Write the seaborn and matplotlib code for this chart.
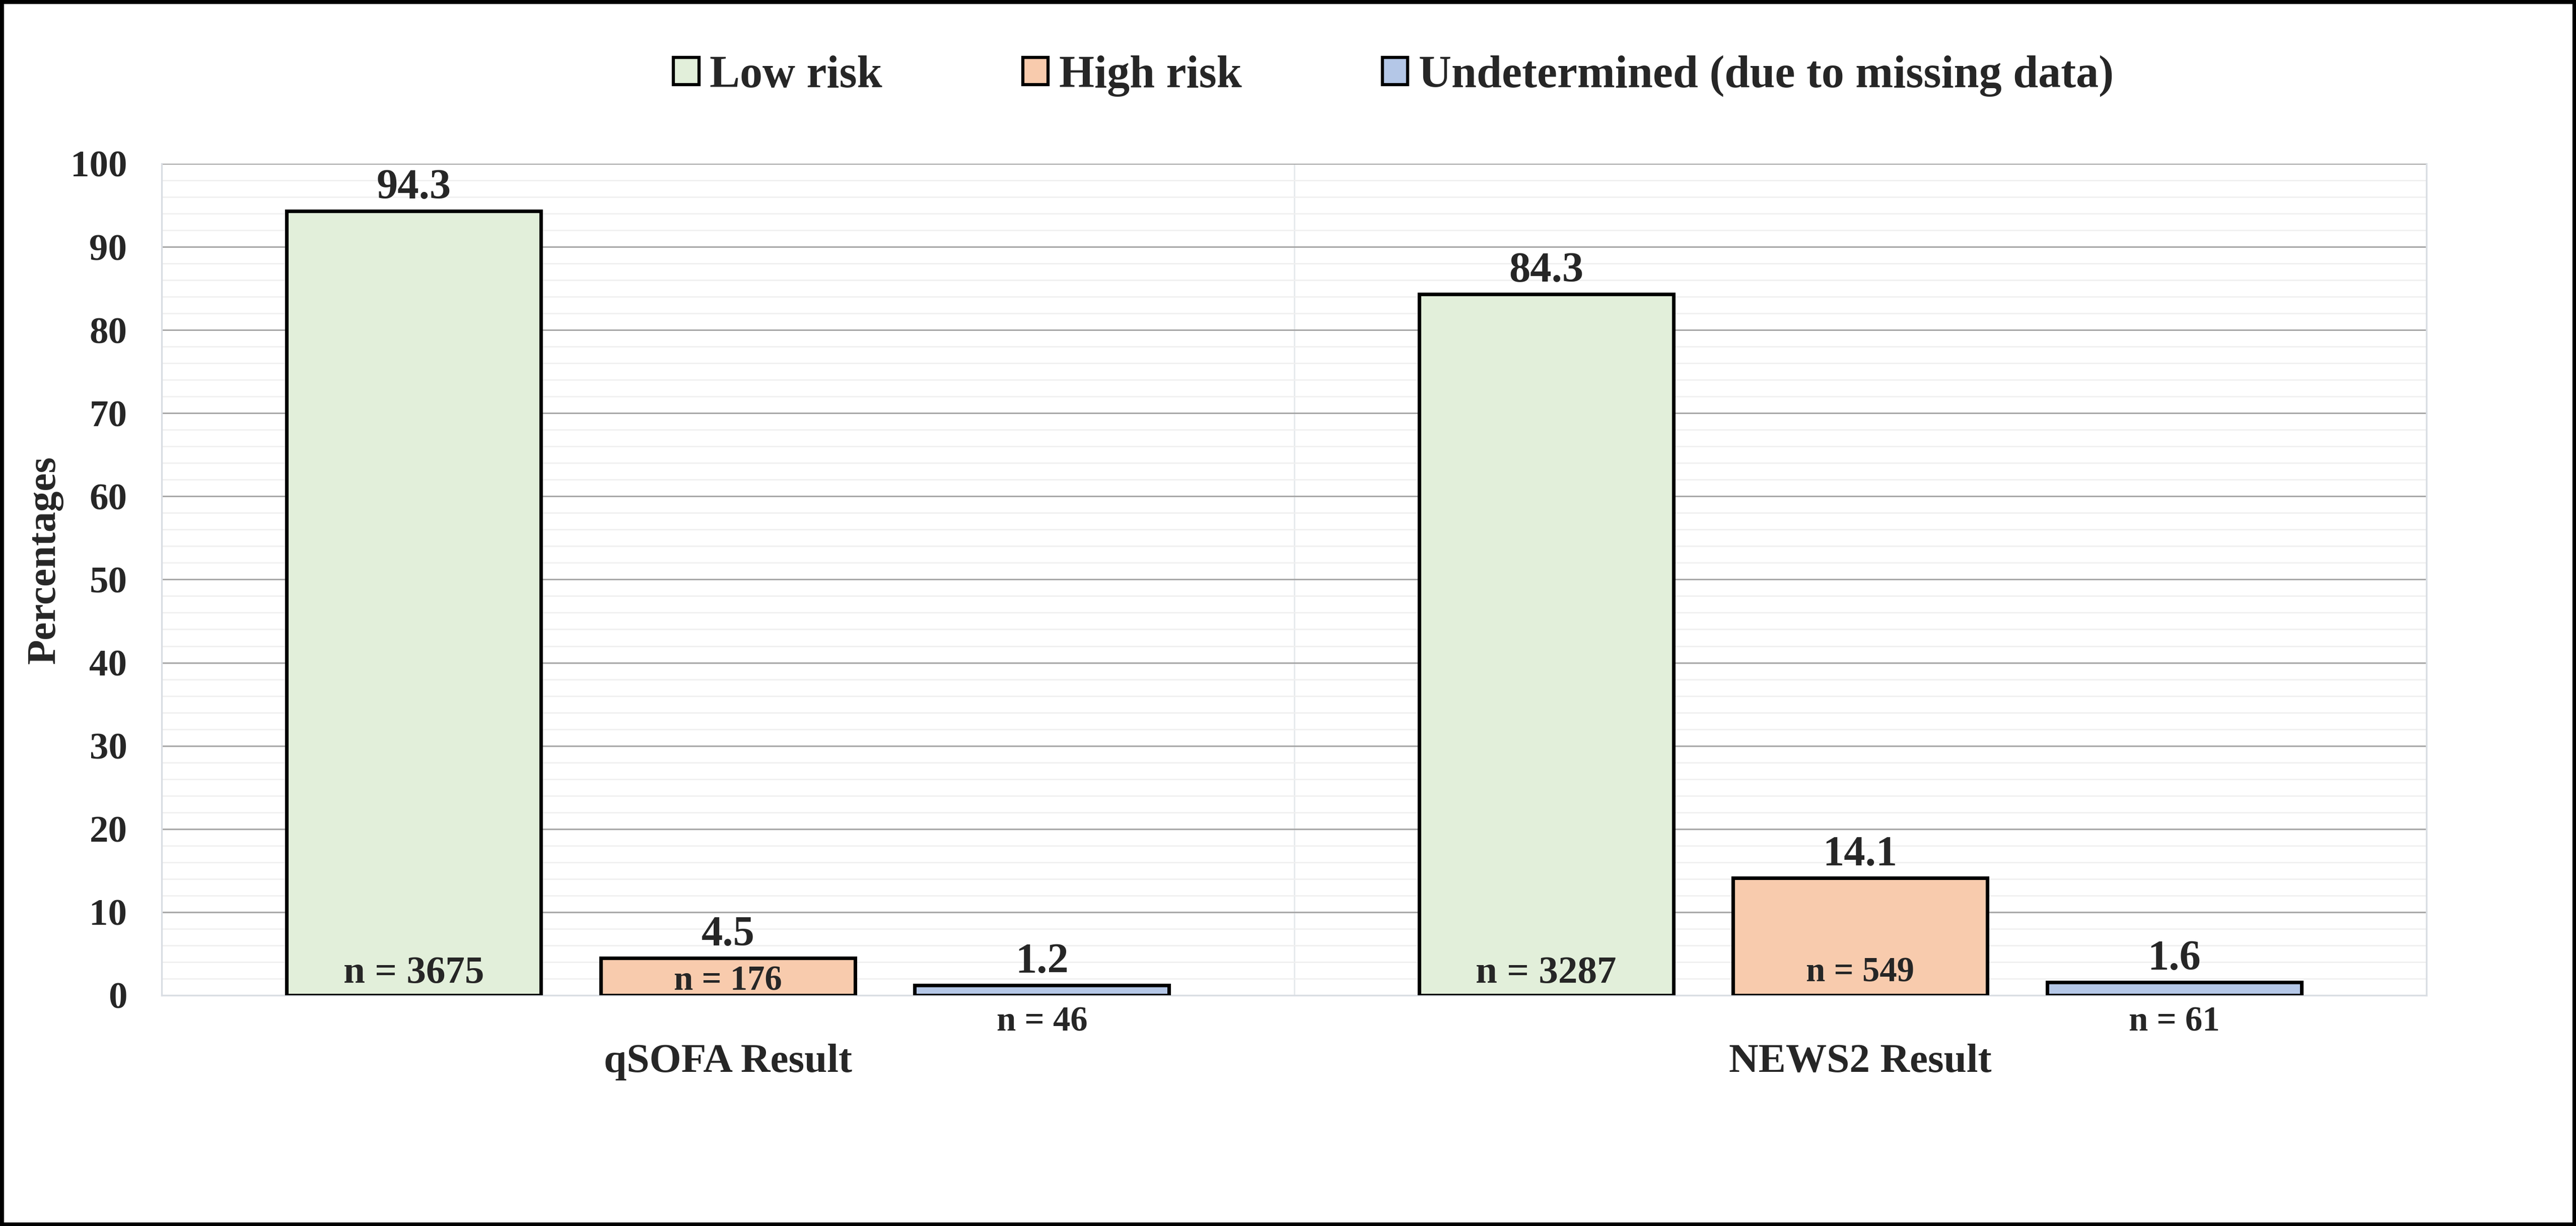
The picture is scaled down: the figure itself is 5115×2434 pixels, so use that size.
import pandas as pd
import matplotlib.pyplot as plt
import matplotlib.patches as mpatches
from matplotlib.ticker import MultipleLocator, FixedLocator
import seaborn as sns

# data
scores = ["qSOFA Result", "NEWS2 Result"]
risk_groups = ["Low risk", "High risk", "Undetermined (due to missing data)"]
qsofa_pct = [94.3, 4.5, 1.2]
news2_pct = [84.3, 14.1, 1.6]
qsofa_n = [3675, 176, 46]
news2_n = [3287, 549, 61]

colors = ["#E2EFDA", "#F8CBAD", "#B4C7E7"]

rows = []
for score, pcts, ns in [(scores[0], qsofa_pct, qsofa_n), (scores[1], news2_pct, news2_n)]:
    for risk, p, n in zip(risk_groups, pcts, ns):
        rows.append({"score": score, "risk": risk, "pct": p, "n": n})
df = pd.DataFrame(rows)

sns.set_style("white")
plt.rcParams["font.family"] = ["Liberation Serif", "DejaVu Serif"]
plt.rcParams["font.weight"] = "bold"

fig = plt.figure(figsize=(5115 / 300, 2434 / 300), dpi=300)
ax = fig.add_axes([0.0628, 0.1882, 0.9419 - 0.0628, 0.8665 - 0.1882])

sns.barplot(data=df, x="score", y="pct", hue="risk", order=scores, hue_order=risk_groups,
            palette=colors, width=0.832, gap=0.19, edgecolor="black", linewidth=1.7,
            saturation=1, ax=ax, zorder=3)

ax.set_xlim(-0.5, 1.5)
ax.set_ylim(0, 100)
ax.set_yticks(range(0, 101, 10))
ax.yaxis.set_minor_locator(MultipleLocator(2))
ax.xaxis.set_minor_locator(FixedLocator([-0.5, 0.5, 1.5]))
ax.grid(which="major", axis="y", color="#a6a6a6", lw=0.7, zorder=0)
ax.grid(which="minor", axis="y", color="#efefef", lw=0.6, zorder=0)
ax.grid(which="minor", axis="x", color="#e3e6ea", lw=0.6, zorder=0)
ax.set_axisbelow(True)

for side in ["left", "right", "bottom"]:
    ax.spines[side].set_color("#d9dde3")
    ax.spines[side].set_linewidth(0.8)
ax.spines["top"].set_visible(False)

ax.tick_params(axis="y", which="both", length=0, pad=16.5, labelsize=18)
ax.tick_params(axis="x", which="major", length=0, pad=23, labelsize=19.5)
ax.tick_params(axis="x", which="minor", length=5.8, width=0.6, color="#e3e6ea")
for lab in ax.get_xticklabels() + ax.get_yticklabels():
    lab.set_fontweight("bold")
ax.set_xlabel("")
ax.set_ylabel("")

fig.text(89 / 5115, 1 - 1112 / 2434, "Percentages", rotation=90, ha="center", va="center",
         fontsize=19.5, fontweight="bold")

# value labels and counts
for i, cont in enumerate(ax.containers):
    sub = df[df["risk"] == risk_groups[i]].set_index("score").loc[scores]
    for bar, p, n in zip(cont, sub["pct"], sub["n"]):
        xc = bar.get_x() + bar.get_width() / 2
        h = bar.get_height()
        ax.annotate(f"{p:.1f}", (xc, h), xytext=(0, 6), textcoords="offset points",
                    ha="center", va="baseline", fontsize=20.3, fontweight="bold", clip_on=False)
        if i == 0:
            off, fs = 6, 18.5
        elif h > 8:
            off, fs = 6.5, 16.5
        elif h > 3:
            off, fs = 2.5, 16.5
        else:
            off, fs = -17, 16.5
        ax.annotate(f"n = {n}", (xc, 0), xytext=(0, off), textcoords="offset points",
                    ha="center", va="baseline", fontsize=fs, fontweight="bold",
                    annotation_clip=False, zorder=5)

handles, labels = ax.get_legend_handles_labels()
for hnd in handles:
    hnd.set_edgecolor("black")
    hnd.set_linewidth(1.5)
if ax.get_legend() is not None:
    ax.get_legend().remove()
fig.legend(handles, labels, loc="center", bbox_to_anchor=(0.541, 0.938), ncol=3, frameon=False,
           prop={"size": 21.6, "weight": "bold"}, handlelength=0.56, handleheight=0.54,
           handletextpad=0.24, columnspacing=3.1)

fig.patches.append(mpatches.Rectangle((0, 0), 1, 1, transform=fig.transFigure, fill=False,
                                      edgecolor="black", lw=3.6))

fig.savefig("out.png", dpi=300)
